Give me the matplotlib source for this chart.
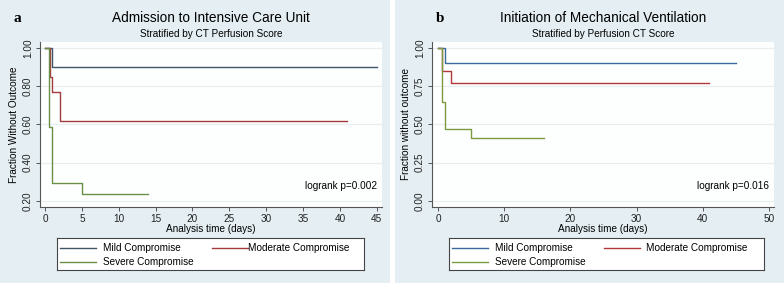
import numpy as np
import matplotlib.pyplot as plt
from matplotlib.patches import Rectangle

plt.rcParams['font.family'] = ['Liberation Sans', 'DejaVu Sans']

# Kaplan-Meier step data, panel a (ICU admission)
a_mild_t = [0, 1, 45]
a_mild_s = [1.0, 0.9, 0.9]
a_mod_t = [0, 0.7, 1, 2, 41]
a_mod_s = [1.0, 0.846, 0.769, 0.615, 0.615]
a_sev_t = [0, 0.6, 1, 5, 14]
a_sev_s = [1.0, 0.588, 0.294, 0.235, 0.235]

# panel b (mechanical ventilation)
b_mild_t = [0, 1, 45]
b_mild_s = [1.0, 0.9, 0.9]
b_mod_t = [0, 0.6, 2, 41]
b_mod_s = [1.0, 0.846, 0.769, 0.769]
b_sev_t = [0, 0.6, 1, 5, 16]
b_sev_s = [1.0, 0.647, 0.471, 0.412, 0.412]

a_yticks = [0.2, 0.4, 0.6, 0.8, 1.0]
a_ylabels = ['0.20', '0.40', '0.60', '0.80', '1.00']
a_xticks = [0, 5, 10, 15, 20, 25, 30, 35, 40, 45]
b_yticks = [0.0, 0.25, 0.5, 0.75, 1.0]
b_ylabels = ['0.00', '0.25', '0.50', '0.75', '1.00']
b_xticks = [0, 10, 20, 30, 40, 50]

labels = ['Mild Compromise', 'Moderate Compromise', 'Severe Compromise']

W, H = 784, 283
bg = '#e5eff3'
axcol = '#555555'
fs = 7.2


def px(x0, y0, x1, y1):
  # pixel box (top-left origin) -> figure fraction rect
  return [x0 / W, (H - y1) / H, (x1 - x0) / W, (y1 - y0) / H]


def draw_panel(fig, ax, series, colors, xticks, yticks, ylabels, xlim, ylim,
               title, subtitle, ylabel, ptext, letter, leg_box, cx, col2):
  ax.set_facecolor('#fdfefe')
  for (t, s), c in zip(series, colors):
    ax.step(t, s, where='post', color=c, lw=1.0)
  ax.set_xlim(*xlim)
  ax.set_ylim(*ylim)
  ax.set_xticks(xticks)
  ax.set_xticklabels([str(v) for v in xticks], fontsize=fs)
  ax.set_yticks(yticks)
  ax.set_yticklabels(ylabels, fontsize=fs, rotation=90, va='center')
  for v in yticks:
    ax.axhline(v, color='#e6eef2', lw=0.8, zorder=0)
  for sp in ['top', 'right']:
    ax.spines[sp].set_visible(False)
  for sp in ['left', 'bottom']:
    ax.spines[sp].set_color(axcol)
    ax.spines[sp].set_linewidth(0.8)
  ax.tick_params(colors=axcol, labelcolor='#222222', length=3, width=0.7, pad=2)
  ax.set_xlabel('Analysis time (days)', fontsize=fs, labelpad=0)
  ax.set_ylabel(ylabel, fontsize=fs, labelpad=3)
  ax.text(0.985, 0.13, ptext, transform=ax.transAxes, ha='right', va='center', fontsize=fs)
  fig.text(cx / W, 1 - 18 / H, title, ha='center', va='center', fontsize=9.8)
  fig.text(cx / W, 1 - 34 / H, subtitle, ha='center', va='center', fontsize=fs)
  fig.text(letter[1] / W, 1 - 18 / H, letter[0], ha='left', va='center',
           fontsize=11, fontweight='bold', family='Liberation Serif')

  lax = fig.add_axes(px(*leg_box))
  lax.set_xlim(0, 1)
  lax.set_ylim(0, 1)
  lax.set_xticks([])
  lax.set_yticks([])
  lax.set_facecolor('white')
  for sp in lax.spines.values():
    sp.set_color('#444444')
    sp.set_linewidth(0.8)
  bw = leg_box[2] - leg_box[0]
  pos = [(3, 0.68, 7), (155, 0.68, col2), (3, 0.25, 7)]
  for (xo, yy, gap), c, lab in zip(pos, colors, labels):
    x0 = xo / bw
    x1 = (xo + 36) / bw
    lax.plot([x0, x1], [yy, yy], color=c, lw=1.0)
    lax.text(x1 + gap / bw, yy, lab, fontsize=fs, va='center', ha='left')


fig = plt.figure(figsize=(W / 100, H / 100), dpi=100)
fig.patch.set_facecolor('white')
fig.patches.append(Rectangle((0, 0), 390 / W, 1, transform=fig.transFigure,
                             facecolor=bg, edgecolor='none', zorder=-10))
fig.patches.append(Rectangle((395 / W, 0), 389 / W, 1, transform=fig.transFigure,
                             facecolor=bg, edgecolor='none', zorder=-10))

ax1 = fig.add_axes(px(40, 42, 382, 207))
draw_panel(fig, ax1,
           [(a_mild_t, a_mild_s), (a_mod_t, a_mod_s), (a_sev_t, a_sev_s)],
           ['#3f5566', '#a53c3c', '#6a9048'],
           a_xticks, a_yticks, a_ylabels, (-0.68, 45.7), (0.167, 1.031),
           'Admission to Intensive Care Unit', 'Stratified by CT Perfusion Score',
           'Fraction Without Outcome', 'logrank p=0.002', ('a', 13),
           (57, 238, 364, 270), 211, 0)

ax2 = fig.add_axes(px(432, 42, 774, 207))
draw_panel(fig, ax2,
           [(b_mild_t, b_mild_s), (b_mod_t, b_mod_s), (b_sev_t, b_sev_s)],
           ['#3b6a9a', '#b03a3a', '#7c9a3e'],
           b_xticks, b_yticks, b_ylabels, (-0.91, 50.75), (-0.041, 1.039),
           'Initiation of Mechanical Ventilation', 'Stratified by Perfusion CT Score',
           'Fraction without outcome', 'logrank p=0.016', ('b', 436),
           (449, 238, 764, 270), 603, 6)

fig.savefig('out.png', dpi=100, facecolor=fig.get_facecolor())
